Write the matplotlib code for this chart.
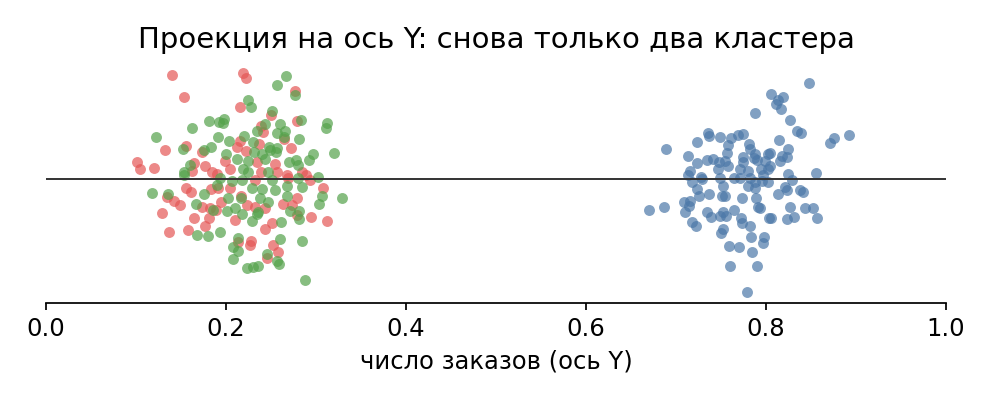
import matplotlib
matplotlib.use("Agg")
import matplotlib.pyplot as plt

# Red cluster
red_x = [0.140, 0.153, 0.156, 0.132, 0.173, 0.101, 0.104, 0.120, 0.164, 0.162, 0.177, 0.184, 0.190,
         0.219, 0.222, 0.277, 0.216, 0.250, 0.279, 0.239, 0.241, 0.264, 0.216, 0.237, 0.212, 0.272,
         0.222, 0.199, 0.204, 0.234, 0.254, 0.239, 0.257, 0.268, 0.284, 0.289,
         0.134, 0.142, 0.149, 0.156, 0.161, 0.183, 0.173, 0.182, 0.129, 0.164, 0.181, 0.177, 0.137, 0.158,
         0.232, 0.269, 0.293, 0.191, 0.204, 0.308, 0.217, 0.194, 0.263, 0.279, 0.223, 0.189, 0.232,
         0.243, 0.273, 0.279, 0.210, 0.294, 0.312, 0.243, 0.251, 0.213, 0.228, 0.227, 0.252, 0.258, 0.246]
red_y = [1.04, 0.82, 0.33, 0.29, 0.27, 0.17, 0.10, 0.11, 0.16, 0.08, 0.13, 0.07, 0.05,
         1.06, 1.01, 0.88, 0.72, 0.64, 0.58, 0.53, 0.47, 0.40, 0.38, 0.35, 0.32, 0.31,
         0.28, 0.18, 0.10, 0.17, 0.15, 0.07, 0.07, 0.04, 0.07, 0.04,
         -0.18, -0.22, -0.26, -0.09, -0.13, -0.10, -0.28, -0.29, -0.34, -0.39, -0.39, -0.47, -0.53, -0.51,
         -0.01, 0.01, -0.01, -0.09, -0.09, -0.09, -0.17, -0.23, -0.25, -0.19, -0.26, -0.31, -0.28,
         -0.29, -0.26, -0.36, -0.41, -0.38, -0.42, -0.50, -0.44, -0.63, -0.62, -0.66, -0.66, -0.73, -0.79]

# Green cluster
green_x = [0.162, 0.181, 0.122, 0.152, 0.176, 0.183, 0.160, 0.153, 0.192,
           0.267, 0.257, 0.277, 0.224, 0.228, 0.251, 0.198, 0.197, 0.283, 0.312, 0.311, 0.260, 0.243,
           0.234, 0.257, 0.266, 0.264, 0.191, 0.203, 0.220, 0.230, 0.281, 0.248, 0.257, 0.256, 0.200,
           0.231, 0.240, 0.249, 0.297, 0.292, 0.320, 0.212, 0.224, 0.243, 0.270, 0.278, 0.280, 0.219,
           0.224, 0.247, 0.302,
           0.118, 0.136, 0.176, 0.167, 0.186, 0.168, 0.180, 0.193, 0.153, 0.190,
           0.193, 0.207, 0.218, 0.251, 0.280, 0.229, 0.240, 0.254, 0.268, 0.284, 0.202, 0.217, 0.238,
           0.247, 0.268, 0.307, 0.329, 0.303, 0.210, 0.201, 0.236, 0.271, 0.281, 0.281, 0.218, 0.229,
           0.234, 0.261, 0.213, 0.208, 0.213, 0.260, 0.284, 0.246, 0.208, 0.257, 0.259, 0.223, 0.230,
           0.236, 0.288]
green_y = [0.51, 0.58, 0.42, 0.30, 0.29, 0.32, 0.14, 0.07, 0.57,
           1.03, 0.94, 0.84, 0.79, 0.72, 0.68, 0.60, 0.56, 0.59, 0.56, 0.51, 0.55, 0.55,
           0.48, 0.46, 0.48, 0.42, 0.42, 0.38, 0.43, 0.37, 0.40, 0.32, 0.31, 0.27, 0.25,
           0.27, 0.25, 0.29, 0.25, 0.19, 0.26, 0.20, 0.18, 0.20, 0.17, 0.19, 0.14, 0.10,
           0.07, 0.07, 0.02,
           -0.14, -0.15, -0.15, -0.25, -0.31, -0.56, -0.57, -0.53, 0.04, -0.06,
           0.01, -0.02, -0.01, -0.01, 0.01, -0.09, -0.10, -0.11, -0.07, -0.08, -0.19, -0.19, -0.19,
           -0.23, -0.17, -0.17, -0.19, -0.25, -0.29, -0.32, -0.33, -0.32, -0.32, -0.40, -0.35, -0.42,
           -0.35, -0.43, -0.59, -0.68, -0.72, -0.60, -0.62, -0.75, -0.80, -0.82, -0.85, -0.89, -0.88,
           -0.87, -1.01]

# Blue cluster
blue_x = [0.806, 0.788, 0.736, 0.737, 0.749, 0.761, 0.769, 0.774, 0.723, 0.689, 0.758, 0.781, 0.782,
          0.757, 0.788, 0.713, 0.802, 0.723, 0.734, 0.741, 0.748, 0.754, 0.758, 0.774, 0.774, 0.787,
          0.790, 0.799, 0.747, 0.771, 0.780, 0.794, 0.802, 0.716, 0.713, 0.728, 0.749, 0.764, 0.782,
          0.797, 0.848, 0.813, 0.819, 0.811, 0.817, 0.827, 0.834, 0.839, 0.871, 0.876, 0.892, 0.814,
          0.824, 0.804, 0.818, 0.823, 0.816, 0.804, 0.824, 0.856, 0.829,
          0.718, 0.729, 0.771, 0.788, 0.796, 0.752, 0.723, 0.780, 0.788, 0.726, 0.737, 0.751, 0.754,
          0.773, 0.789, 0.670, 0.687, 0.709, 0.716, 0.714, 0.710, 0.734, 0.739, 0.749, 0.752, 0.756,
          0.764, 0.791, 0.793, 0.803, 0.772, 0.773, 0.782, 0.718, 0.722, 0.752, 0.750, 0.783, 0.798,
          0.797, 0.759, 0.770, 0.784, 0.760, 0.790, 0.779,
          0.802, 0.821, 0.823, 0.813, 0.838, 0.841, 0.827, 0.843, 0.852, 0.806, 0.823, 0.831, 0.857]
blue_y = [0.85, 0.66, 0.46, 0.43, 0.42, 0.41, 0.44, 0.45, 0.37, 0.30, 0.34, 0.35, 0.30,
          0.26, 0.25, 0.23, 0.25, 0.16, 0.19, 0.20, 0.17, 0.18, 0.13, 0.22, 0.17, 0.21,
          0.19, 0.18, 0.10, 0.10, 0.08, 0.10, 0.10, 0.08, 0.04, 0.02, 0.01, 0.01, 0.01,
          0.04, 0.96, 0.79, 0.82, 0.75, 0.70, 0.59, 0.48, 0.46, 0.36, 0.41, 0.44, 0.39,
          0.30, 0.26, 0.23, 0.22, 0.18, 0.13, 0.05, 0.06, -0.01,
          -0.03, 0.00, 0.01, -0.03, -0.02, -0.07, -0.10, -0.07, -0.09, -0.17, -0.15, -0.17, -0.17,
          -0.19, -0.19, -0.31, -0.28, -0.23, -0.22, -0.27, -0.33, -0.33, -0.38, -0.37, -0.33, -0.37,
          -0.31, -0.28, -0.29, -0.39, -0.39, -0.44, -0.47, -0.43, -0.47, -0.50, -0.54, -0.58, -0.58,
          -0.64, -0.67, -0.68, -0.73, -0.87, -0.87, -1.13,
          -0.03, -0.08, -0.11, -0.15, -0.11, -0.13, -0.28, -0.29, -0.29, -0.39, -0.40, -0.38, -0.39]

xticks = [0.0, 0.2, 0.4, 0.6, 0.8, 1.0]
title = "Проекция на ось Y: снова только два кластера"
xlabel = "число заказов (ось Y)"

fig = plt.figure(figsize=(9.92, 4.0), dpi=100)
ax = fig.add_axes([46/992, 97/400, 900/992, 241/400])

kw = dict(s=62, alpha=0.7, linewidths=0)
ax.scatter(red_x, red_y, color="#e45756", **kw)
ax.scatter(green_x, green_y, color="#54a24b", **kw)
ax.scatter(blue_x, blue_y, color="#4c78a8", **kw)
ax.axhline(0, color="#333333", lw=1.4, zorder=5)

ax.set_xlim(0, 1)
ax.set_ylim(-1.24, 1.17)
ax.set_xticks(xticks)
ax.set_xticklabels([f"{t:.1f}" for t in xticks])
ax.set_yticks([])
for s in ("left", "top", "right"):
    ax.spines[s].set_visible(False)
ax.spines["bottom"].set_linewidth(1.25)
ax.tick_params(axis="x", labelsize=17.5, length=5, width=1.25, pad=5)

fig.text(0.5, 1 - 40/400, title, ha="center", va="center", fontsize=21)
fig.text(0.5, 1 - 362/400, xlabel, ha="center", va="center", fontsize=17.5)

fig.savefig("out.png", dpi=100)
